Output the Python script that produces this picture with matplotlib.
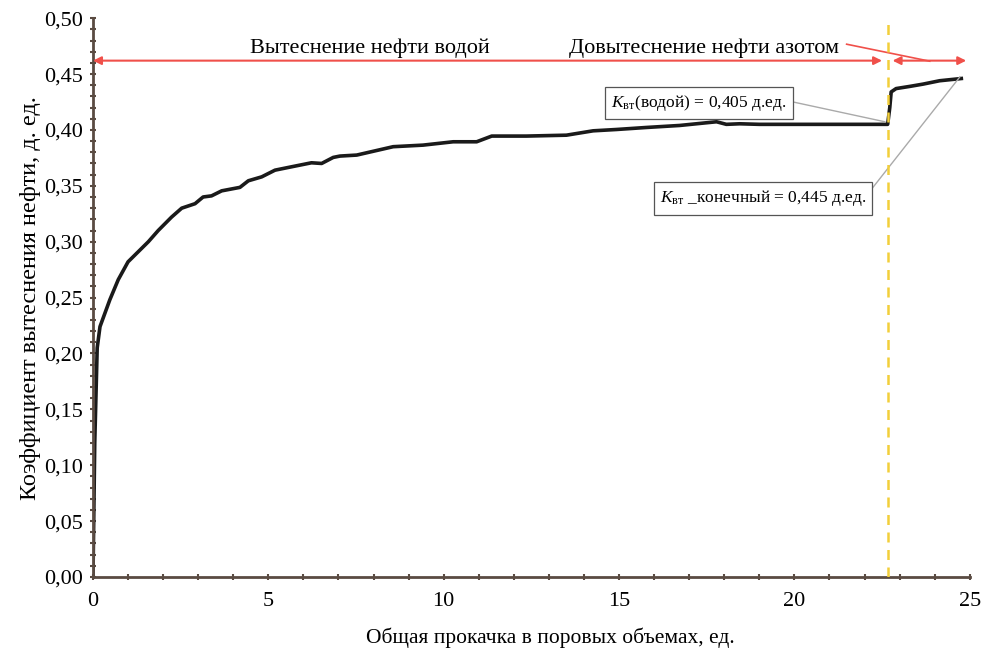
import matplotlib
matplotlib.use("Agg")
import matplotlib.pyplot as plt
from matplotlib.ticker import MultipleLocator, FuncFormatter

plt.rcParams['font.family'] = ['Liberation Serif', 'DejaVu Serif']
plt.rcParams['mathtext.fontset'] = 'custom'
plt.rcParams['mathtext.rm'] = 'Liberation Serif'
plt.rcParams['mathtext.it'] = 'Liberation Serif:italic'

# pore volumes injected / displacement coefficient
pv = [0, 0.05, 0.12, 0.2, 0.48, 0.72, 1.0, 1.29, 1.58, 1.86, 2.24, 2.53, 2.91, 3.14,
      3.38, 3.67, 4.19, 4.43, 4.81, 5.19, 5.66, 6.23, 6.52, 6.85, 7.04, 7.52, 8.56,
      9.41, 10.27, 10.94, 11.37, 12.36, 13.5, 14.26, 14.93, 15.78, 16.73, 17.49,
      17.78, 18.06, 18.44, 19.0, 20.0, 21.0, 22.0, 22.66, 22.72, 22.76, 22.9, 23.3,
      23.67, 24.14, 24.76]
kd = [0, 0.12, 0.205, 0.224, 0.248, 0.266, 0.282, 0.291, 0.300, 0.310, 0.322, 0.330,
      0.334, 0.340, 0.341, 0.3455, 0.3486, 0.3545, 0.358, 0.364, 0.367, 0.3706, 0.370,
      0.3754, 0.3766, 0.3775, 0.385, 0.3864, 0.3894, 0.3894, 0.3945, 0.3945, 0.3953,
      0.3992, 0.4004, 0.4022, 0.404, 0.4064, 0.4073, 0.405, 0.4055, 0.405, 0.405,
      0.405, 0.405, 0.405, 0.420, 0.434, 0.437, 0.439, 0.441, 0.444, 0.446]

x_switch = 22.66
k_water = 0.405
k_final = 0.445

fig = plt.figure(figsize=(9.84, 6.49), dpi=100)
ax = fig.add_axes([0.0945, 0.111, 0.891, 0.861])

ax.plot(pv, kd, color='#1a1a1a', lw=2.6, solid_joinstyle='round')
ax.axvline(x_switch, color='#f2cf3a', lw=1.8, ls=(0, (4, 3)), zorder=3)

red = '#f0504a'
ax.annotate('', xy=(0.0, 0.462), xytext=(22.5, 0.462),
            arrowprops=dict(arrowstyle='<|-|>', color=red, lw=1.5, mutation_scale=12,
                            shrinkA=0, shrinkB=0))
ax.annotate('', xy=(22.8, 0.462), xytext=(24.9, 0.462),
            arrowprops=dict(arrowstyle='<|-|>', color=red, lw=1.5, mutation_scale=12,
                            shrinkA=0, shrinkB=0))
ax.plot([21.49, 23.86], [0.4767, 0.4615], color=red, lw=1.2)

ax.text(7.9, 0.4735, 'Вытеснение нефти водой', ha='center', va='center', fontsize=16)
ax.text(17.42, 0.4735, 'Довытеснение нефти азотом', ha='center', va='center', fontsize=16)

box = dict(boxstyle='square,pad=0.35', fc='white', ec='#555555', lw=0.9)
ax.text(17.28, 0.4239, r'$K_{\mathrm{вт}}$(водой) = ' + f'{k_water:.3f}'.replace('.', ',') + ' д.ед.',
        ha='center', va='center', fontsize=12.5, bbox=box)
ax.plot([19.95, 22.58], [0.4251, 0.4073], color='#aaaaaa', lw=1.0)
ax.text(19.11, 0.3387, r'$K_{\mathrm{вт}}$ _конечный = ' + f'{k_final:.3f}'.replace('.', ',') + ' д.ед.',
        ha='center', va='center', fontsize=12.5, bbox=box)
ax.plot([22.1, 24.72], [0.343, 0.4475], color='#aaaaaa', lw=1.0)

ax.set_xlim(0, 25)
ax.set_ylim(0, 0.5)
ax.xaxis.set_major_locator(MultipleLocator(5))
ax.xaxis.set_minor_locator(MultipleLocator(1))
ax.yaxis.set_major_locator(MultipleLocator(0.05))
ax.yaxis.set_minor_locator(MultipleLocator(0.01))
ax.yaxis.set_major_formatter(FuncFormatter(lambda v, p: f'{v:.2f}'.replace('.', ',')))

axc = '#5a4b42'
for s in ['top', 'right']:
    ax.spines[s].set_visible(False)
for s in ['left', 'bottom']:
    ax.spines[s].set_color(axc)
    ax.spines[s].set_linewidth(2)
ax.tick_params(which='both', direction='inout', color=axc, width=1.5, labelsize=16)
ax.tick_params(which='major', length=5)
ax.tick_params(which='minor', length=4)
ax.tick_params(axis='x', pad=8)
ax.tick_params(axis='y', pad=5)

ax.set_xlabel('Общая прокачка в поровых объемах, ед.', fontsize=15.5, labelpad=13)
ax.xaxis.set_label_coords(0.522, -0.09)
ax.set_ylabel('Коэффициент вытеснения нефти, д. ед.', fontsize=17.5, labelpad=2)

fig.savefig('out.png', dpi=100)
